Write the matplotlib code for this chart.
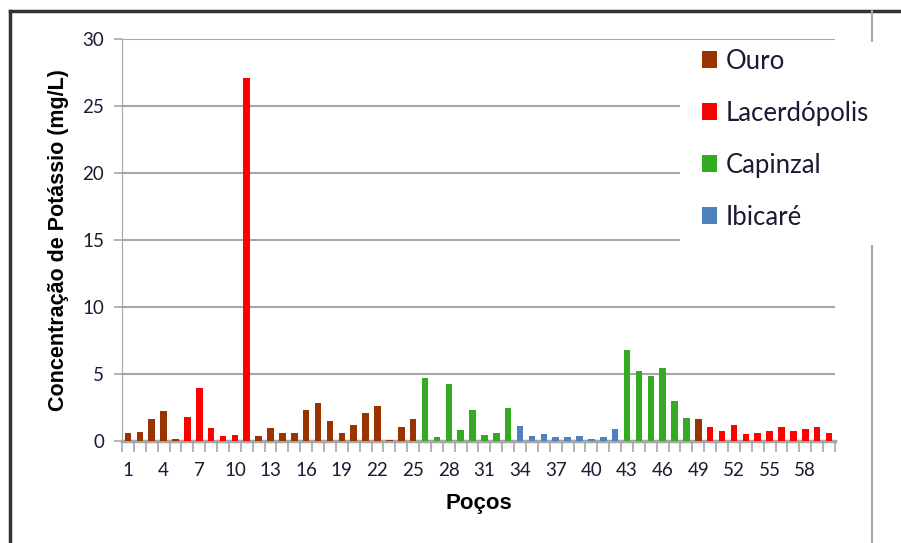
import matplotlib.pyplot as plt
from matplotlib.lines import Line2D
from matplotlib.patches import Patch, Rectangle

# poços 1..60, concentração de potássio (mg/L)
pocos = list(range(1, 61))
valores = [0.65, 0.7, 1.7, 2.3, 0.2, 1.8, 4.0, 1.0, 0.4, 0.5,
           27.1, 0.4, 1.0, 0.6, 0.6, 2.35, 2.85, 1.55, 0.65, 1.25,
           2.15, 2.65, 0.1, 1.05, 1.65, 4.75, 0.35, 4.25, 0.85, 2.35,
           0.45, 0.65, 2.5, 1.15, 0.4, 0.55, 0.3, 0.3, 0.4, 0.2,
           0.3, 0.95, 6.85, 5.25, 4.9, 5.45, 3.05, 1.75, 1.7, 1.05,
           0.75, 1.2, 0.55, 0.6, 0.8, 1.1, 0.8, 0.9, 1.1, 0.6]
municipio = (["Ouro"] * 5 + ["Lacerdópolis"] * 6 + ["Ouro"] * 14 +
             ["Capinzal"] * 8 + ["Ibicaré"] * 9 + ["Capinzal"] * 6 +
             ["Ouro"] + ["Lacerdópolis"] * 11)
cores = {"Ouro": "#993300", "Lacerdópolis": "#ff0000",
         "Capinzal": "#33aa22", "Ibicaré": "#4f81bd"}
legenda = ["Ouro", "Lacerdópolis", "Capinzal", "Ibicaré"]

fig = plt.figure(figsize=(9.01, 5.43), dpi=100)
ax = fig.add_axes([0.1354, 0.187, 0.7913, 0.741])

ax.bar(pocos, valores, width=0.55, color=[cores[m] for m in municipio], zorder=3)

ax.set_xlim(0.5, 60.5)
ax.set_ylim(0, 30)
ax.set_yticks(range(0, 31, 5))
ax.set_xticks(range(1, 61, 3))
ax.set_xticks([i + 0.5 for i in range(0, 61)], minor=True)
ax.grid(axis='y', color='#a6a6a6', linewidth=1.5, zorder=0)

for s in ['top', 'right']:
    ax.spines[s].set_visible(False)
ax.spines['left'].set_color('#a6a6a6')
ax.spines['bottom'].set_color('#a6a6a6')
ax.spines['bottom'].set_linewidth(2.5)
ax.tick_params(axis='y', color='#a6a6a6', length=6, width=1.2, labelsize=13.5,
               labelcolor='#1a1a33', pad=7)
ax.tick_params(axis='x', which='major', length=0, labelsize=13.5,
               labelcolor='#1a1a33', pad=15)
ax.tick_params(axis='x', which='minor', color='#a6a6a6', length=8, width=1.2)
for lab in ax.get_xticklabels() + ax.get_yticklabels():
    lab.set_family('Lato')

ax.set_ylabel('Concentração de Potássio (mg/L)', fontsize=15.5, fontweight='bold',
              family='Liberation Sans', labelpad=9)
ax.set_xlabel('Poços', fontsize=16, fontweight='bold', family='Liberation Sans',
              labelpad=10)

# molduras
fig.add_artist(Line2D([10/901, 10/901], [0, 532/543], color='#333333', lw=2.5))
fig.add_artist(Line2D([10/901, 1], [532/543, 532/543], color='#333333', lw=2.5))
fig.add_artist(Line2D([872/901, 872/901], [0, 532/543], color='#a6a6a6', lw=1.5))

# caixa branca da legenda
fig.add_artist(Rectangle((680/901, 298/543), 196/901, 203/543, transform=fig.transFigure,
                         facecolor='white', edgecolor='none', zorder=2))

handles = [Patch(facecolor=cores[m]) for m in legenda]
leg = fig.legend(handles, legenda, loc='upper left', bbox_to_anchor=(676/901, 520/543),
                 frameon=False, labelspacing=1.05, handlelength=0.6, handleheight=0.6,
                 handletextpad=0.35, borderpad=0.5, prop={'family': 'Lato', 'size': 18.5})
leg.set_zorder(3)
for t in leg.get_texts():
    t.set_color('#1a1a33')

fig.savefig('out.png', dpi=100)
